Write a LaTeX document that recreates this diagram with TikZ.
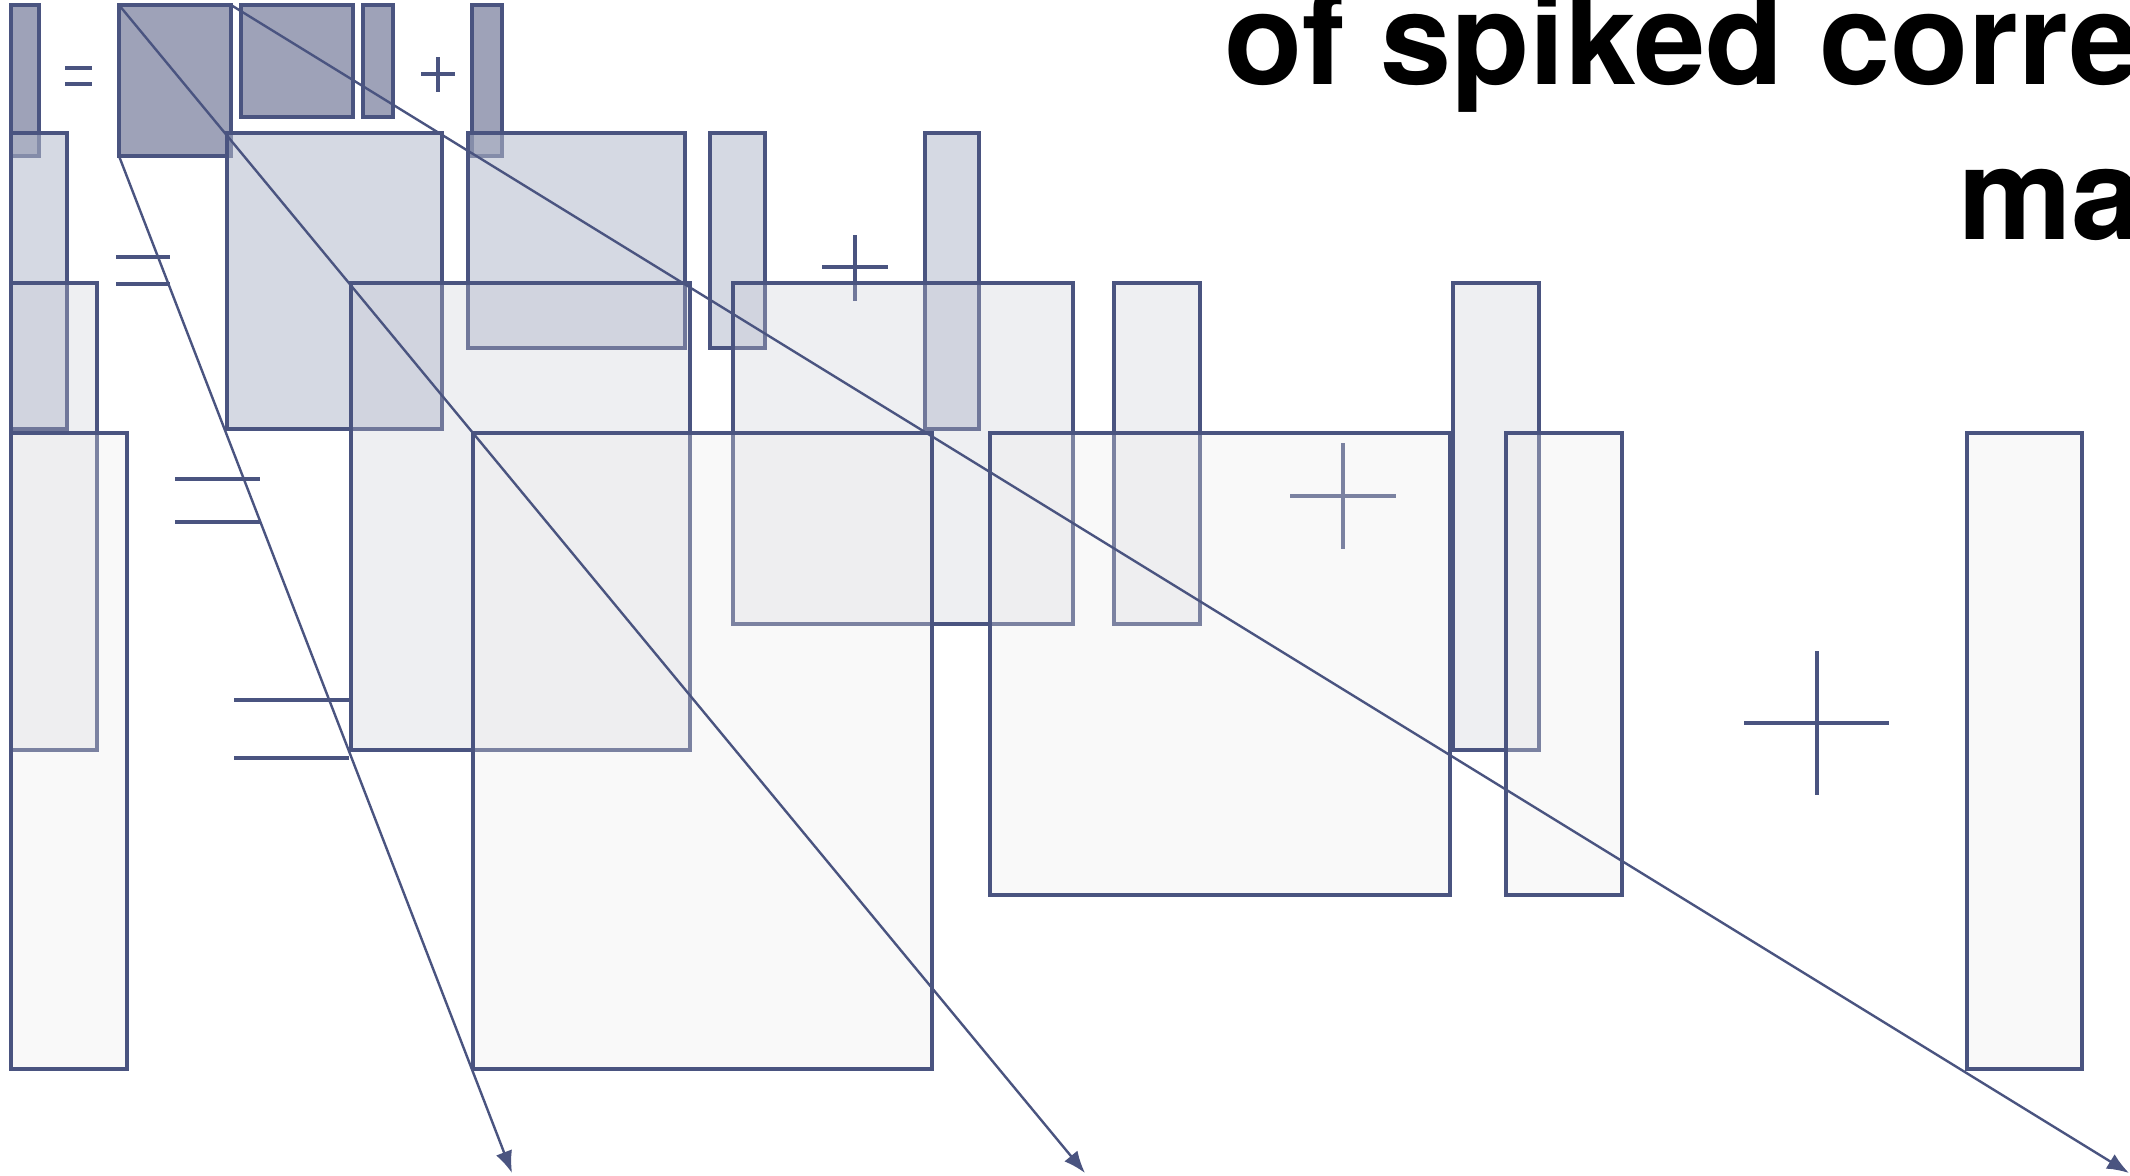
\documentclass[tikz,border=0pt]{standalone}
\usepackage{fontspec}
\newfontfamily\heros{TeX Gyre Heros}
\usetikzlibrary{fit,arrows.meta}
\definecolor{navy}{RGB}{74,84,128}
\definecolor{fillA}{RGB}{158,162,184}
\definecolor{fillB}{RGB}{180,186,204}
\definecolor{fillC}{RGB}{200,203,215}
\definecolor{fillD}{RGB}{238,238,238}
\tikzset{
  boxbase/.style={draw=navy, inner sep=0pt, outer sep=0pt, rectangle, line width=2pt},
  lvA/.style={boxbase, fill=fillA},
  lvB/.style={boxbase, fill=fillB, fill opacity=0.55},
  lvC/.style={boxbase, fill=fillC, fill opacity=0.3},
  lvD/.style={boxbase, fill=fillD, fill opacity=0.3},
  symA/.style={draw=navy, line width=1.6pt},
  symB/.style={draw=navy, line width=2pt},
  symC/.style={draw=navy, line width=2pt},
  symD/.style={draw=navy, line width=2.2pt},
  conn/.style={draw=navy, line width=1.2pt, -{Latex[length=11pt,width=8.5pt]}},
  titletext/.style={anchor=base west, inner sep=0pt, outer sep=0pt, text=black,
    font={\heros\bfseries\fontsize{64pt}{64pt}\selectfont}},
}
\newcommand{\mybox}[6]{\node[#6, fit={(#2,#3) (#4,#5)}] (#1) {};}
\begin{document}
\begin{tikzpicture}[x=0.5pt,y=-0.5pt]
\useasboundingbox (0,0) rectangle (2130,1175);
\fill[white] (0,0) rectangle (2130,1175);

% title (cut by the right and top edges)
\node[titletext] (ttl1) at (1224,84) {of spiked corre};
\node[titletext] (ttl2) at (1958,239) {ma};

% level 1
\mybox{yA}{11}{5}{39}{156}{lvA}
\mybox{AA}{119}{5}{231}{156}{lvA}
\mybox{BA}{241}{5}{353}{117}{lvA}
\mybox{cA}{363}{5}{393}{117}{lvA}
\mybox{eA}{472}{5}{502}{156}{lvA}
\draw[symA] (65,68) -- (92,68) (65,84) -- (92,84);
\draw[symA] (421,74) -- (455,74) (438,57) -- (438,92);

% level 2
\mybox{yB}{11}{133}{67}{429}{lvB}
\mybox{AB}{227}{133}{442}{429}{lvB}
\mybox{BB}{468}{133}{685}{348}{lvB}
\mybox{cB}{710}{133}{765}{348}{lvB}
\mybox{eB}{925}{133}{979}{429}{lvB}
\draw[symB] (116,257) -- (170,257) (116,284) -- (170,284);
\draw[symB] (822,267) -- (888,267) (855,235) -- (855,301);

% level 3
\mybox{yC}{11}{283}{97}{750}{lvC}
\mybox{AC}{351}{283}{690}{750}{lvC}
\mybox{BC}{733}{283}{1073}{624}{lvC}
\mybox{cC}{1114}{283}{1200}{624}{lvC}
\mybox{eC}{1453}{283}{1539}{750}{lvC}
\draw[symC] (175,479) -- (260,479) (175,522) -- (260,522);
\draw[symC] (1290,496) -- (1396,496) (1343,443) -- (1343,549);

% level 4
\mybox{yD}{11}{433}{127}{1069}{lvD}
\mybox{AD}{473}{433}{932}{1069}{lvD}
\mybox{BD}{990}{433}{1450}{895}{lvD}
\mybox{cD}{1506}{433}{1622}{895}{lvD}
\mybox{eD}{1967}{433}{2082}{1069}{lvD}
\draw[symD] (234,700) -- (349,700) (234,758) -- (349,758);
\draw[symD] (1744,723) -- (1889,723) (1817,651) -- (1817,795);

% zoom connectors
\coordinate (tipA) at (512,1173);
\coordinate (tipB) at (1085,1173);
\coordinate (tipC) at (2129,1173);
\draw[conn] (AA.south west) -- (tipA);
\draw[conn] (AA.north west) -- (tipB);
\draw[conn] (AA.north east) -- (tipC);
\end{tikzpicture}
\end{document}
